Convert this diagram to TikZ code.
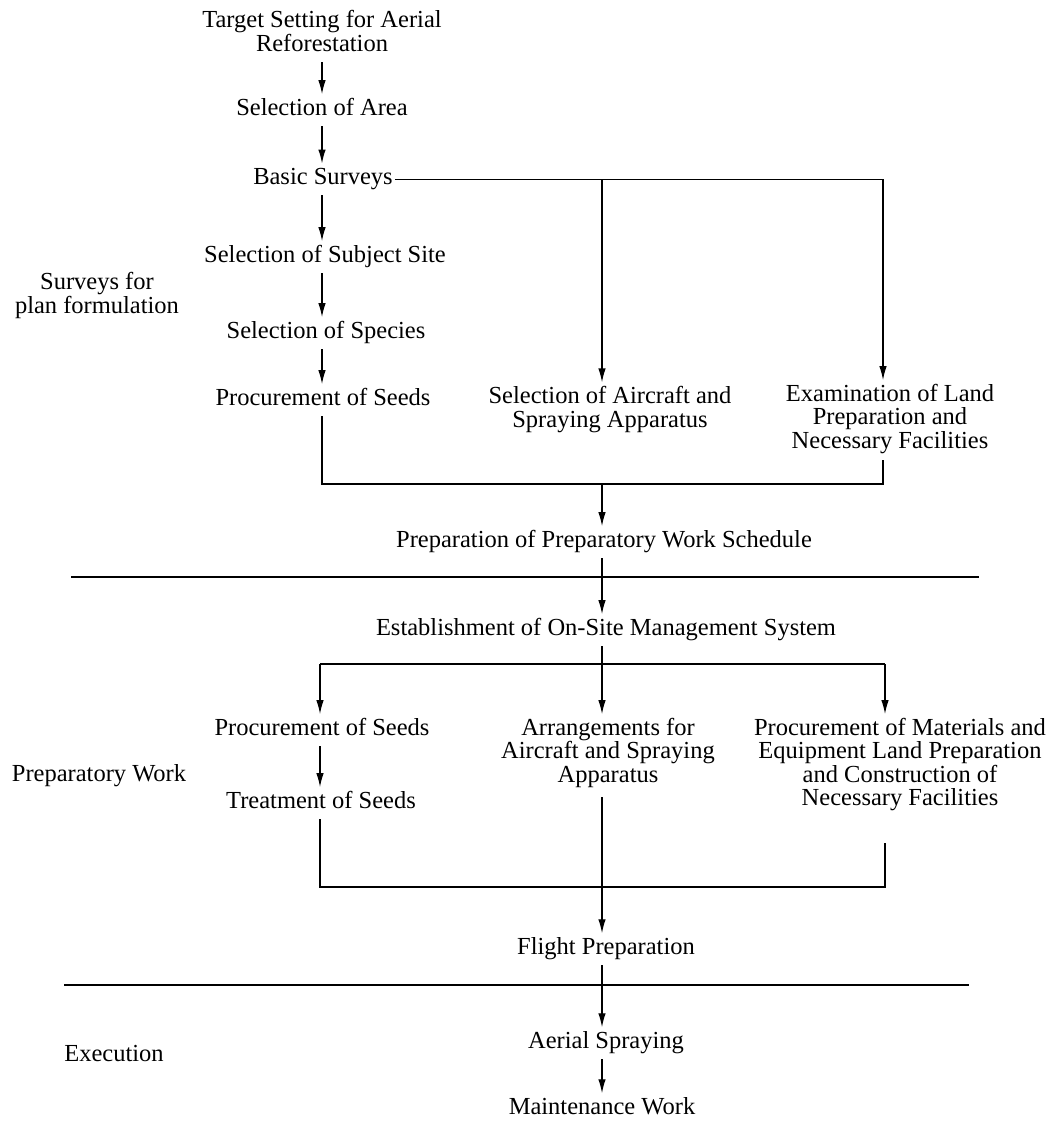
\documentclass[tikz,border=0pt]{standalone}
\usepackage{fontspec}
\setmainfont{Liberation Serif}
\usetikzlibrary{arrows.meta}
\begin{document}
\begin{tikzpicture}[x={(1pt,0)},y={(0,-1pt)},
  lbl/.style={inner sep=0pt,outer sep=0pt,align=center,
    font=\fontsize{24.5}{23.5}\selectfont,
    execute at begin node=\strut, execute at end node=\strut},
  ln/.style={line width=1.3pt},
  flow/.style={ln,-{Latex[length=14pt,width=7.5pt]},shorten <=4pt,shorten >=4pt},
  branch/.style={ln,-{Latex[length=14pt,width=7.5pt]},shorten >=4pt}]
\fill[white] (0,0) rectangle (1055,1122);
\path[use as bounding box] (0,0) rectangle (1055,1122);
% column coordinates
\coordinate (colL) at (322,0);
\coordinate (colL2) at (320,0);
\coordinate (colM) at (602,0);
\coordinate (colR) at (883,0);
\coordinate (colR2) at (885,0);
% nodes
\node[lbl] (target) at (322,34.3) {Target Setting for Aerial\\Reforestation};
\node[lbl] (area) at (322,110.3) {Selection of Area};
\node[lbl] (bs) at (323,179.3) {Basic Surveys};
\node[lbl] (subj) at (325,257.3) {Selection of Subject Site};
\node[lbl] (spec) at (326,333.3) {Selection of Species};
\node[lbl] (proc1) at (323,400.3) {Procurement of Seeds};
\node[lbl] (selair) at (610,410.3) {Selection of Aircraft and\\Spraying Apparatus};
\node[lbl] (exam) at (890,419.8) {Examination of Land\\Preparation and\\Necessary Facilities};
\node[lbl] (surv) at (97,296.3) {Surveys for\\plan formulation};
\node[lbl] (prep) at (604,542.3) {Preparation of Preparatory Work Schedule};
\node[lbl] (estab) at (606,630.3) {Establishment of On-Site Management System};
\node[lbl] (proc2) at (322,730.3) {Procurement of Seeds};
\node[lbl] (arr) at (608,753.8) {Arrangements for\\Aircraft and Spraying\\Apparatus};
\node[lbl] (mat) at (900,765.5) {Procurement of Materials and\\Equipment Land Preparation\\and Construction of\\Necessary Facilities};
\node[lbl] (treat) at (321,803.3) {Treatment of Seeds};
\node[lbl] (pwork) at (99,776.3) {Preparatory Work};
\node[lbl] (flight) at (606,949.3) {Flight Preparation};
\node[lbl] (aerial) at (606,1043.3) {Aerial Spraying};
\node[lbl] (exec) at (114,1056.3) {Execution};
\node[lbl] (maint) at (602,1109.3) {Maintenance Work};
% helper coordinates
\coordinate (b1L) at (322,484);
\coordinate (b1M) at (602,484);
\coordinate (b1R) at (883,484);
\coordinate (br2L) at (320,664);
\coordinate (br2M) at (602,664);
\coordinate (br2R) at (885,664);
\coordinate (b2L) at (320,887);
\coordinate (b2R) at (885,887);
\coordinate (m2) at (885,843);
\coordinate (s1L) at (71,577);
\coordinate (s1R) at (979,577);
\coordinate (s2L) at (64,985);
\coordinate (s2R) at (969,985);
% separators
\draw[ln] (s1L) -- (s1R);
\draw[ln] (s2L) -- (s2R);
% top chain
\draw[flow] (target.south -| colL) -- (area.north -| colL);
\draw[flow] (area.south -| colL) -- (bs.north -| colL);
\draw[ln,shorten <=2pt] (bs.east) -- (bs.east -| colR);
\draw[flow] (bs.south -| colL) -- (subj.north -| colL);
\draw[flow] (subj.south -| colL) -- (spec.north -| colL);
\draw[flow] (spec.south -| colL) -- (proc1.north -| colL);
\draw[branch] (bs.east -| colM) -- (selair.north -| colM);
\draw[branch] (bs.east -| colR) -- (exam.north -| colR);
% bracket 1
\draw[ln,shorten <=4pt,shorten >=5pt] (proc1.south -| colL) -- (b1L) -- (b1R) -- (exam.south -| colR);
\draw[branch] (b1M) -- (prep.north -| colM);
\draw[flow] (prep.south -| colM) -- (estab.north -| colM);
% branch 2
\draw[ln,shorten <=4pt] (estab.south -| colM) -- (br2M);
\draw[ln] (br2L) -- (br2R);
\draw[branch] (br2L) -- (proc2.north -| colL2);
\draw[branch] (br2M) -- (arr.north -| colM);
\draw[branch] (br2R) -- (mat.north -| colR2);
\draw[flow] (proc2.south -| colL2) -- (treat.north -| colL2);
% bracket 2
\draw[ln,shorten <=4pt] (treat.south -| colL2) -- (b2L) -- (b2R) -- (m2);
\draw[flow,shorten <=8pt] (arr.south -| colM) -- (flight.north -| colM);
\draw[flow] (flight.south -| colM) -- (aerial.north -| colM);
\draw[flow] (aerial.south -| colM) -- (maint.north -| colM);
\end{tikzpicture}
\end{document}
